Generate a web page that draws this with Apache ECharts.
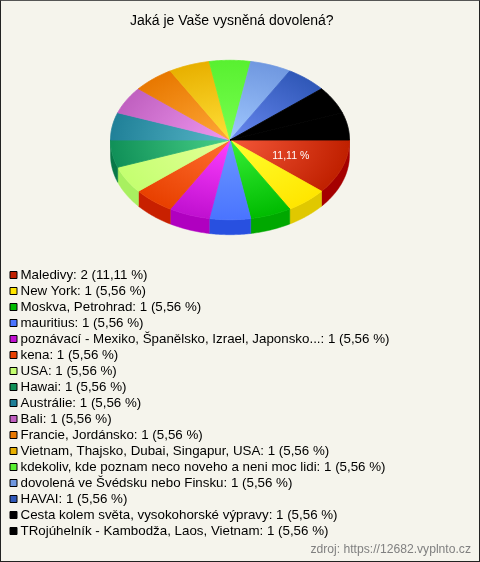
<!DOCTYPE html>
<html><head><meta charset="utf-8">
<style>html,body{margin:0;padding:0;background:#f5f4ec}#c{width:480px;height:562px;box-sizing:border-box;border:1px solid #222;border-top-color:#555;background:#f5f4ec;overflow:hidden}#m{width:478px;height:560px}</style>
<script src="https://cdn.jsdelivr.net/npm/echarts@6/dist/echarts.min.js"></script>
</head><body><div id="c"><div id="m"></div></div>
<script>
const titleText = 'Jaká je Vaše vysněná dovolená?';
const sourceText = 'zdroj: https://12682.vyplnto.cz';
const categories = ['Maledivy','New York','Moskva, Petrohrad','mauritius','poznávací - Mexiko, Španělsko, Izrael, Japonsko...','kena','USA','Hawai','Austrálie','Bali','Francie, Jordánsko','Vietnam, Thajsko, Dubai, Singapur, USA','kdekoliv, kde poznam neco noveho a neni moc lidi','dovolená ve Švédsku nebo Finsku','HAVAI','Cesta kolem světa, vysokohorské výpravy','TRojúhelník - Kambodža, Laos, Vietnam'];
const values = [2,1,1,1,1,1,1,1,1,1,1,1,1,1,1,1,1];
const swatchColors = ['#c02000','#ffe600','#00bb00','#4a74ff','#c010d0','#e84000','#c4ff70','#109058','#208098','#c060c0','#e87800','#e8b000','#58f030','#7098e0','#3058b8','#000000','#000000'];
const innerColors = ['#f5583a','#ffff30','#38f038','#6c98ff','#ff40ff','#ff7030','#e4ff98','#48d088','#58b8c8','#f098f0','#ffa838','#ffe038','#78ff50','#a0c8ff','#6888f0','#000000','#000000'];
const sideColors = ['#a50000','#e0c800','#00a800','#2850e0','#b000c0','#c82000','#a8f060','#087848','#106078','#a048a0','#c86000','#c89800','#40d020','#5078c0','#204098','#000000','#000000'];

const total = values.reduce((a,b)=>a+b,0);
const pct = v => (v/total*100).toFixed(2).replace('.',',') + ' %';
const legendLabels = categories.map((c,i)=>`${c}: ${values[i]} (${pct(values[i])})`);
const CX=229, CY=139, RX=119.5, RY=79.7, DEPTH=15;
const starts = []; values.reduce((s,v,i)=>{starts[i]=s; return s+v;},0);

function renderSlice(i){
  return function(){
    const a0 = starts[i]/total*2*Math.PI, a1 = (starts[i]+values[i])/total*2*Math.PI;
    const kids = [];
    const vis0 = a0, vis1 = Math.min(a1, Math.PI);
    const n = 32;
    if (vis0 < Math.PI) {
      const pts = [];
      for (let k=0;k<=n;k++){const t=vis0+(vis1-vis0)*k/n; pts.push([CX+RX*Math.cos(t), CY+RY*Math.sin(t)]);}
      for (let k=n;k>=0;k--){const t=vis0+(vis1-vis0)*k/n; pts.push([CX+RX*Math.cos(t), CY+RY*Math.sin(t)+DEPTH]);}
      kids.push({type:'polygon',shape:{points:pts},style:{fill:sideColors[i],stroke:sideColors[i],lineWidth:0.5}});
    }
    const top=[[0,0]];
    for (let k=0;k<=n;k++){const t=a0+(a1-a0)*k/n; top.push([RX*Math.cos(t),RX*Math.sin(t)]);}
    const grad={type:'radial',x:0,y:0,r:RX,global:true,colorStops:[{offset:0,color:innerColors[i]},{offset:1,color:swatchColors[i]}]};
    kids.push({type:'polygon',x:CX,y:CY,scaleY:RY/RX,shape:{points:top},
      style:{fill:grad,stroke:grad,lineWidth:1}});
    if (values[i]/total > 0.1) {
      const m=(a0+a1)/2;
      kids.push({type:'text',x:CX+RX*0.55*Math.cos(m)-1,y:CY+RY*0.55*Math.sin(m)+1,
        style:{text:pct(values[i]),fill:'#fff',font:'10.5px "Liberation Sans"',align:'center',verticalAlign:'middle'}});
    }
    return {type:'group',children:kids};
  };
}

const chart = echarts.init(document.getElementById('m'),null,{renderer:'canvas'});
chart.setOption({
  animation:false,
  backgroundColor:'#f5f4ec',
  title:[
    {text:titleText,left:124,top:8,textStyle:{fontFamily:'Liberation Sans',fontSize:14,fontWeight:'normal',color:'#000'}},
    {text:sourceText,right:8,top:543,padding:0,textStyle:{fontFamily:'Liberation Sans',fontSize:12.15,fontWeight:'normal',color:'#808080'}}
  ],
  legend:{orient:'vertical',left:8,top:266,padding:0,itemWidth:8,itemHeight:8,itemGap:0,selectedMode:false,
    icon:'path://M0 0L0 0M1 1H15V15H1ZM16 16L16 16',
    textStyle:{fontFamily:'Liberation Sans',fontSize:13.33,color:'#000',padding:[2,0,0,-2],lineHeight:14},
    data:legendLabels.map((n,i)=>({name:n,itemStyle:{color:swatchColors[i],borderColor:'#000',borderWidth:1}}))},
  series:values.map((v,i)=>({type:'custom',coordinateSystem:'none',name:legendLabels[i],
    itemStyle:{color:swatchColors[i]},silent:true,data:[[i,v]],renderItem:renderSlice(i)}))
});
</script></body></html>
